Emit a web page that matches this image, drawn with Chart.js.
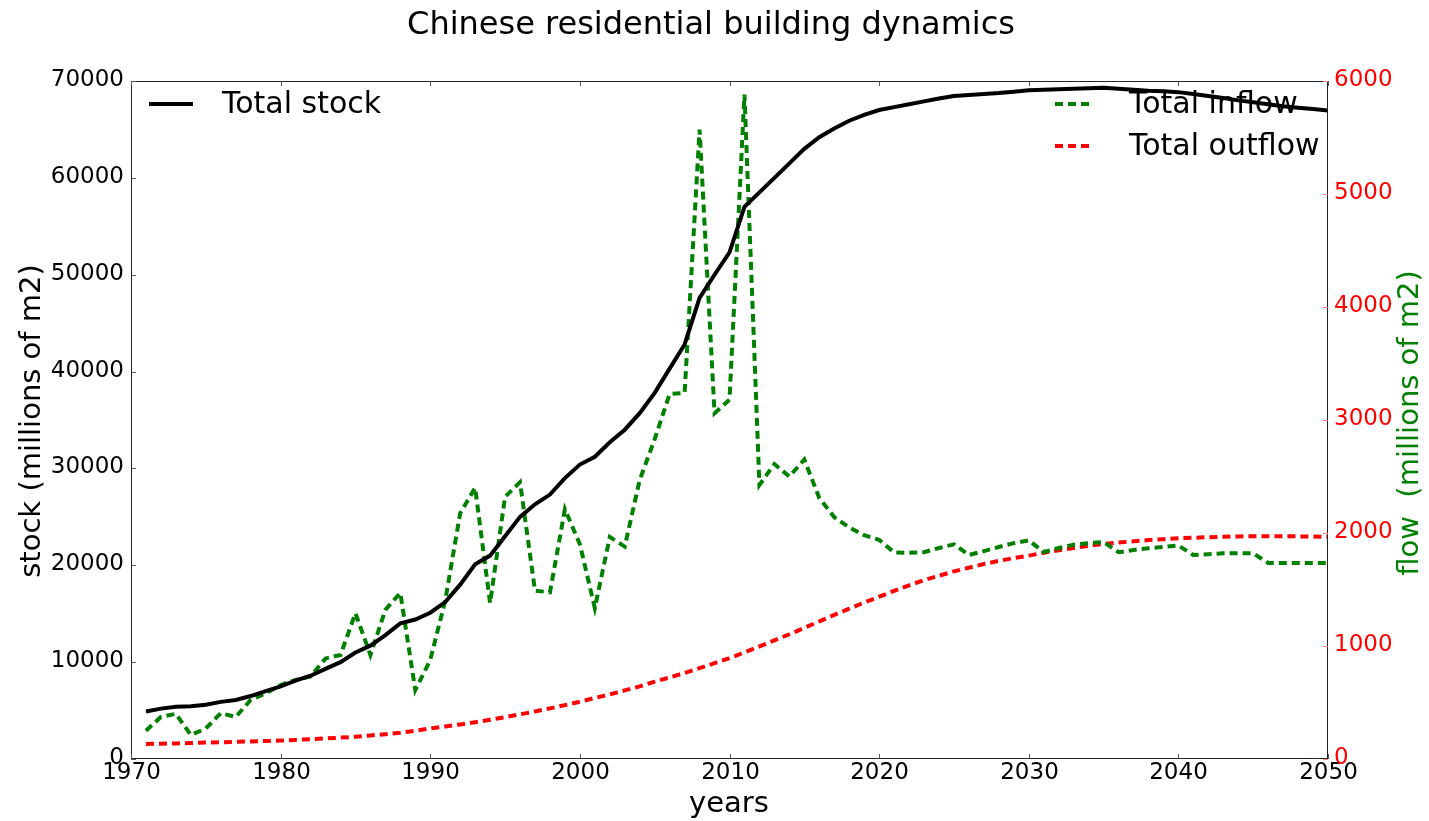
<!DOCTYPE html>
<html lang="en">
<head>
  <meta charset="UTF-8" />
  <title>Chinese residential building dynamics</title>
  <script src="https://cdn.jsdelivr.net/npm/chart.js"></script>
  <style>
    html, body { margin: 0; padding: 0; background: #fff; }
    #wrap { width: 1429px; height: 821px; }
  </style>
</head>
<body>
  <div id="wrap"><canvas id="dynChart"></canvas></div>
  <script>
    // years 1971..2050
    const years = [];
    for (let y = 1971; y <= 2050; y++) years.push(y);

    // Total stock (millions of m2), left axis
    const stock = [
      4900, 5200, 5400, 5450, 5600, 5900, 6100, 6500, 7000, 7500,
      8100, 8600, 9300, 10000, 11000, 11700, 12800, 14000, 14400, 15100,
      16200, 18000, 20100, 21000, 23000, 25000, 26300, 27300, 29000, 30400,
      31200, 32700, 34000, 35700, 37800, 40300, 42800, 47600, 50000, 52300,
      57000, 58500, 60000, 61500, 63000, 64200, 65100, 65900, 66500, 67000,
      67300, 67600, 67900, 68200, 68450, 68550, 68650, 68750, 68900, 69050,
      69100, 69150, 69200, 69250, 69300, 69200, 69100, 69000, 68950, 68850,
      68650, 68450, 68250, 68000, 67800, 67600, 67400, 67250, 67100, 66950
    ];

    // Total inflow (millions of m2), right axis
    const inflow = [
      250, 372, 400, 212, 270, 405, 372, 522, 580, 655,
      700, 730, 890, 920, 1290, 920, 1320, 1470, 610, 876,
      1400, 2175, 2400, 1380, 2320, 2450, 1490, 1475, 2210, 1900,
      1335, 1965, 1880, 2470, 2830, 3230, 3240, 5570, 3060, 3180,
      5880, 2425, 2610, 2500, 2650, 2310, 2140, 2050, 1980, 1940,
      1828, 1825, 1830, 1867, 1900, 1805, 1840, 1876, 1910, 1935,
      1832, 1867, 1896, 1910, 1920, 1830, 1850, 1865, 1876, 1890,
      1805, 1813, 1820, 1820, 1820, 1735, 1735, 1735, 1735, 1735
    ];

    // Total outflow (millions of m2), right axis
    const outflow = [
      133, 135, 138, 141, 145, 148, 152, 155, 159, 163,
      169, 175, 182, 189, 197, 208, 220, 233, 250, 270,
      288, 306, 326, 347, 370, 395, 421, 448, 477, 507,
      540, 572, 607, 643, 684, 722, 762, 804, 848, 893,
      944, 996, 1050, 1104, 1160, 1218, 1275, 1330, 1385, 1436,
      1488, 1537, 1583, 1622, 1660, 1693, 1725, 1753, 1778, 1800,
      1825, 1848, 1867, 1886, 1903, 1915, 1927, 1937, 1945, 1953,
      1958, 1963, 1967, 1970, 1972, 1972, 1971, 1970, 1968, 1966
    ];

    const FONT = 'DejaVu Sans, sans-serif';

    function pts(vals) {
      return vals.map((v, i) => ({ x: years[i], y: v }));
    }

    // title, axis titles, tick labels, frame, inward ticks and the two legends
    const decor = {
      id: 'decor',
      afterDraw(chart) {
        const ctx = chart.ctx;
        const a = chart.chartArea;
        const sx = chart.scales.x, sy = chart.scales.y, sy2 = chart.scales.y2;
        ctx.save();

        // frame
        ctx.strokeStyle = '#222';
        ctx.lineWidth = 1;
        ctx.strokeRect(a.left + 0.5, a.top + 0.5, a.right - a.left - 1, a.bottom - a.top - 1);

        // ticks pointing inside + tick labels
        ctx.font = '23px ' + FONT;
        ctx.strokeStyle = '#555';
        ctx.fillStyle = '#000';
        ctx.textAlign = 'center';
        ctx.textBaseline = 'top';
        sx.ticks.forEach(t => {
          const px = Math.round(sx.getPixelForValue(t.value)) + 0.5;
          ctx.beginPath();
          ctx.moveTo(px, a.bottom); ctx.lineTo(px, a.bottom - 5);
          ctx.moveTo(px, a.top); ctx.lineTo(px, a.top + 5);
          ctx.stroke();
          ctx.fillText(String(t.value), px, a.bottom + 3);
        });
        ctx.textAlign = 'right';
        ctx.textBaseline = 'middle';
        sy.ticks.forEach(t => {
          const py = Math.round(sy.getPixelForValue(t.value)) + 0.5;
          ctx.beginPath();
          ctx.moveTo(a.left, py); ctx.lineTo(a.left + 5, py);
          ctx.stroke();
          ctx.fillText(String(t.value), a.left - 7, py - 1);
        });
        ctx.strokeStyle = '#ff8080';
        ctx.fillStyle = 'red';
        ctx.textAlign = 'left';
        sy2.ticks.forEach(t => {
          const py = Math.round(sy2.getPixelForValue(t.value)) + 0.5;
          ctx.beginPath();
          ctx.moveTo(a.right, py); ctx.lineTo(a.right - 5, py);
          ctx.stroke();
          ctx.fillText(String(t.value), a.right + 6, py - 1);
        });

        // title
        ctx.fillStyle = '#000';
        ctx.font = '32px ' + FONT;
        ctx.textAlign = 'center';
        ctx.textBaseline = 'middle';
        ctx.fillText('Chinese residential building dynamics', 711, 26);

        // axis titles
        ctx.font = '29px ' + FONT;
        ctx.fillText('years', 729, 804);
        ctx.save();
        ctx.translate(32, 421);
        ctx.rotate(-Math.PI / 2);
        ctx.fillText('stock (millions of m2)', 0, 0);
        ctx.restore();
        ctx.save();
        ctx.translate(1410, 423);
        ctx.rotate(-Math.PI / 2);
        ctx.fillStyle = 'green';
        ctx.fillText('flow  (millions of m2)', 0, 0);
        ctx.restore();

        // legends
        ctx.font = '30px ' + FONT;
        ctx.textAlign = 'left';
        ctx.lineWidth = 4;
        const items = [
          { label: 'Total stock', color: '#000', dash: [], x: 149, y: 104 },
          { label: 'Total inflow', color: 'green', dash: [8, 5], x: 1055, y: 104 },
          { label: 'Total outflow', color: 'red', dash: [8, 5], x: 1055, y: 146 }
        ];
        items.forEach(it => {
          ctx.strokeStyle = it.color;
          ctx.setLineDash(it.dash);
          ctx.beginPath();
          ctx.moveTo(it.x, it.y); ctx.lineTo(it.x + (it.dash.length ? 36 : 44), it.y);
          ctx.stroke();
          ctx.setLineDash([]);
          ctx.fillStyle = '#000';
          ctx.fillText(it.label, it.x + (it.dash.length ? 74 : 73), it.y + 1);
        });
        ctx.restore();
      }
    };

    new Chart(document.getElementById('dynChart'), {
      type: 'line',
      data: {
        datasets: [
          {
            label: 'Total stock',
            data: pts(stock),
            yAxisID: 'y',
            borderColor: '#000',
            borderWidth: 4,
            pointRadius: 0,
            tension: 0
          },
          {
            label: 'Total inflow',
            data: pts(inflow),
            yAxisID: 'y2',
            borderColor: 'green',
            borderWidth: 4,
            borderDash: [8, 5],
            pointRadius: 0,
            tension: 0
          },
          {
            label: 'Total outflow',
            data: pts(outflow),
            yAxisID: 'y2',
            borderColor: 'red',
            borderWidth: 4,
            borderDash: [8, 5],
            pointRadius: 0,
            tension: 0
          }
        ]
      },
      options: {
        responsive: true,
        maintainAspectRatio: false,
        animation: false,
        layout: { padding: { left: 0, right: 0, top: 81, bottom: 0 } },
        plugins: {
          legend: { display: false },
          tooltip: { enabled: false }
        },
        scales: {
          x: {
            type: 'linear',
            min: 1970,
            max: 2050,
            grid: { display: false, drawTicks: false },
            border: { display: false },
            ticks: { stepSize: 10, display: false },
            afterFit: s => { s.height = 62; }
          },
          y: {
            position: 'left',
            min: 0,
            max: 70000,
            grid: { display: false, drawTicks: false },
            border: { display: false },
            ticks: { stepSize: 10000, display: false },
            afterFit: s => { s.width = 131; }
          },
          y2: {
            position: 'right',
            min: 0,
            max: 6000,
            grid: { display: false, drawTicks: false },
            border: { display: false },
            ticks: { stepSize: 1000, display: false },
            afterFit: s => { s.width = 101; }
          }
        }
      },
      plugins: [decor]
    });
  </script>
</body>
</html>
